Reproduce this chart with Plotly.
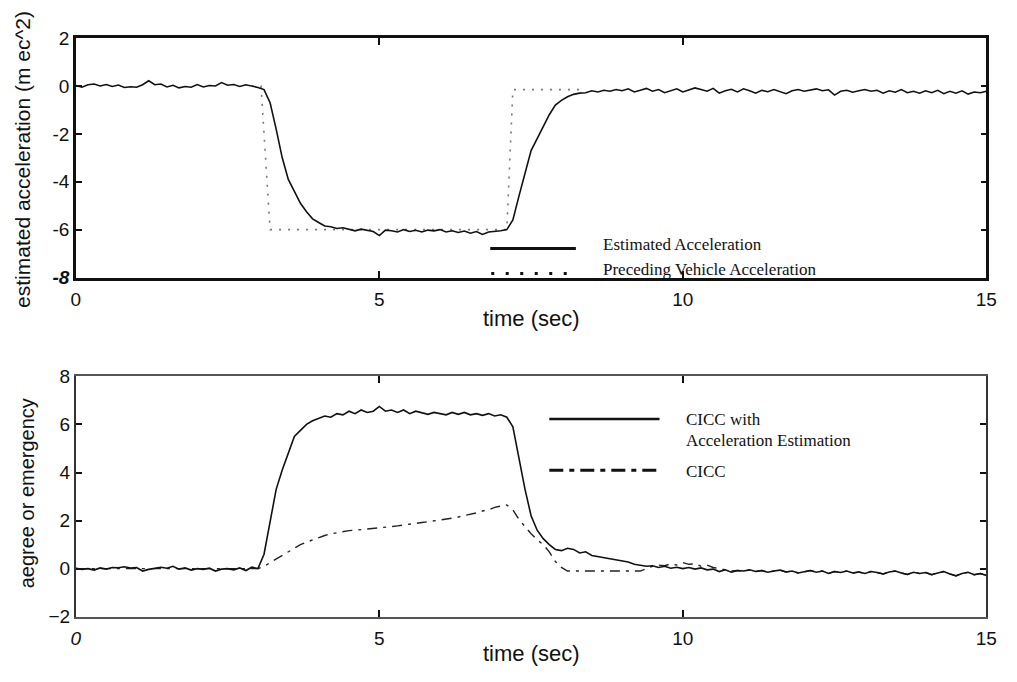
import plotly.graph_objects as go

# ---------------- data ----------------
time = [
    0.0, 0.1, 0.2, 0.3, 0.4, 0.5, 0.6, 0.7, 0.8, 0.9,
    1.0, 1.1, 1.2, 1.3, 1.4, 1.5, 1.6, 1.7, 1.8, 1.9,
    2.0, 2.1, 2.2, 2.3, 2.4, 2.5, 2.6, 2.7, 2.8, 2.9,
    3.0, 3.1, 3.2, 3.3, 3.4, 3.5, 3.6, 3.7, 3.8, 3.9,
    4.0, 4.1, 4.2, 4.3, 4.4, 4.5, 4.6, 4.7, 4.8, 4.9,
    5.0, 5.1, 5.2, 5.3, 5.4, 5.5, 5.6, 5.7, 5.8, 5.9,
    6.0, 6.1, 6.2, 6.3, 6.4, 6.5, 6.6, 6.7, 6.8, 6.9,
    7.0, 7.1, 7.2, 7.3, 7.4, 7.5, 7.6, 7.7, 7.8, 7.9,
    8.0, 8.1, 8.2, 8.3, 8.4, 8.5, 8.6, 8.7, 8.8, 8.9,
    9.0, 9.1, 9.2, 9.3, 9.4, 9.5, 9.6, 9.7, 9.8, 9.9,
    10.0, 10.1, 10.2, 10.3, 10.4, 10.5, 10.6, 10.7, 10.8, 10.9,
    11.0, 11.1, 11.2, 11.3, 11.4, 11.5, 11.6, 11.7, 11.8, 11.9,
    12.0, 12.1, 12.2, 12.3, 12.4, 12.5, 12.6, 12.7, 12.8, 12.9,
    13.0, 13.1, 13.2, 13.3, 13.4, 13.5, 13.6, 13.7, 13.8, 13.9,
    14.0, 14.1, 14.2, 14.3, 14.4, 14.5, 14.6, 14.7, 14.8, 14.9, 15.0,
]

estimated_accel = [
    0.02, -0.05, 0.05, 0.08, 0.0, 0.06, -0.02, 0.04, -0.06, -0.03,
    -0.05, 0.05, 0.22, 0.05, 0.08, -0.04, 0.03, -0.08, -0.02, -0.05,
    0.06, -0.04, 0.02, 0.0, 0.14, 0.03, 0.06, -0.02, 0.05, 0.0,
    -0.06, -0.15, -0.7, -1.8, -3.0, -3.9, -4.4, -4.9, -5.25, -5.55,
    -5.7, -5.85, -5.88, -5.95, -5.92, -6.0, -6.05, -5.98, -6.02, -6.08,
    -6.25, -6.02, -6.05, -6.1, -6.0, -6.08, -6.03, -6.1, -6.02, -6.05,
    -6.0, -6.1, -6.05, -6.12, -6.06, -6.15, -6.08, -6.2, -6.1, -6.08,
    -6.05, -6.0, -5.6, -4.6, -3.6, -2.7, -2.2, -1.7, -1.2, -0.8,
    -0.6, -0.45, -0.35, -0.3, -0.28, -0.2, -0.25, -0.18, -0.22, -0.15,
    -0.2, -0.12, -0.25, -0.18, -0.1, -0.22, -0.15, -0.28, -0.2, -0.12,
    -0.25, -0.18, -0.08, -0.15, -0.22, -0.1, -0.3, -0.2, -0.14, -0.25,
    -0.12, -0.2, -0.3, -0.18, -0.24, -0.15, -0.22, -0.32, -0.2, -0.15,
    -0.22, -0.18, -0.12, -0.2, -0.16, -0.38, -0.22, -0.18, -0.26, -0.2,
    -0.15, -0.22, -0.18, -0.3, -0.2, -0.26, -0.15, -0.28, -0.22, -0.3,
    -0.2, -0.28, -0.18, -0.32, -0.22, -0.3, -0.2, -0.34, -0.25, -0.28, -0.22,
]

preceding_time = [2.9, 3.05, 3.2, 7.1, 7.2, 8.4]
preceding_accel = [0.0, 0.0, -6.0, -6.0, -0.15, -0.15]

cicc_ae = [
    0.02, -0.03, 0.0, -0.06, 0.03, -0.02, 0.05, 0.04, 0.08, 0.03,
    0.05, -0.1, -0.03, 0.0, 0.06, 0.02, 0.1, -0.02, 0.03, -0.06,
    0.0, -0.03, 0.02, -0.1, -0.02, 0.0, -0.05, 0.03, -0.08, 0.06,
    0.0, 0.6, 2.0, 3.3, 4.1, 4.8, 5.5, 5.75, 6.0, 6.15,
    6.25, 6.35, 6.3, 6.45, 6.4, 6.55, 6.45, 6.6, 6.5, 6.55,
    6.75, 6.55, 6.6, 6.5, 6.6, 6.45, 6.55, 6.5, 6.42, 6.5,
    6.45, 6.4, 6.5, 6.42, 6.5, 6.4, 6.45, 6.38, 6.45, 6.35,
    6.4, 6.3, 5.9, 4.6, 3.3, 2.2, 1.6, 1.25, 1.0, 0.8,
    0.75, 0.85, 0.8, 0.65, 0.7, 0.55, 0.5, 0.45, 0.4, 0.35,
    0.3, 0.28, 0.18, 0.15, 0.1, 0.12, 0.05, 0.1, 0.02, 0.06,
    0.0, 0.05, -0.02, 0.03, -0.05, -0.02, -0.12, -0.05, -0.15, -0.08,
    -0.1, -0.05, -0.12, -0.08, -0.15, -0.1, -0.06, -0.14, -0.1, -0.18,
    -0.12, -0.08, -0.15, -0.1, -0.2, -0.12, -0.16, -0.1, -0.18, -0.14,
    -0.2, -0.12, -0.16, -0.22, -0.14, -0.1, -0.18, -0.24, -0.15, -0.2,
    -0.16, -0.25, -0.18, -0.12, -0.22, -0.3, -0.2, -0.15, -0.25, -0.2, -0.28,
]

cicc = [
    0.0, 0.0, 0.0, 0.0, 0.0, 0.0, 0.0, 0.0, 0.0, 0.0,
    0.0, 0.0, 0.0, 0.0, 0.0, 0.0, 0.0, 0.0, 0.0, 0.0,
    0.0, 0.0, 0.0, 0.0, 0.0, 0.0, 0.0, 0.0, 0.0, 0.0,
    0.0, 0.1, 0.25, 0.4, 0.55, 0.7, 0.85, 1.0, 1.1, 1.2,
    1.3, 1.38, 1.45, 1.5, 1.55, 1.58, 1.6, 1.62, 1.64, 1.66,
    1.68, 1.72, 1.75, 1.78, 1.82, 1.85, 1.88, 1.92, 1.95, 1.98,
    2.02, 2.06, 2.1, 2.15, 2.2, 2.25, 2.32, 2.4, 2.45, 2.55,
    2.6, 2.65, 2.45, 2.05, 1.75, 1.45, 1.2, 1.0, 0.7, 0.3,
    0.05, -0.1, -0.1, -0.1, -0.1, -0.1, -0.1, -0.1, -0.1, -0.1,
    -0.1, -0.1, -0.1, -0.1, 0.0, 0.1, 0.15, 0.12, 0.2, 0.15,
    0.25, 0.18, 0.2, 0.1, 0.15, 0.05, 0.0, -0.05, -0.1, -0.08,
    -0.1, -0.05, -0.12, -0.08, -0.15, -0.1, -0.06, -0.14, -0.1, -0.18,
    -0.12, -0.08, -0.15, -0.1, -0.2, -0.12, -0.16, -0.1, -0.18, -0.14,
    -0.2, -0.12, -0.16, -0.22, -0.14, -0.1, -0.18, -0.24, -0.15, -0.2,
    -0.16, -0.25, -0.18, -0.12, -0.22, -0.3, -0.2, -0.15, -0.25, -0.2, -0.28,
]

x_ticks = [0, 5, 10, 15]
top_x_labels = ["0", "5", "10", "15"]
bottom_x_labels = ["<i>0</i>", "5", "10", "15"]
top_y_ticks = [2, 0, -2, -4, -6, -8]
top_y_labels = ["2", "0", "-2", "-4", "-6", "<b><i>-8</i></b>"]
bottom_y_ticks = [8, 6, 4, 2, 0, -2]

# ---------------- figure ----------------
W, H = 1017, 682
def px_x(p):
    return p / W
def px_y(p):
    return 1 - p / H

fig = go.Figure()

fig.add_trace(go.Scatter(x=preceding_time, y=preceding_accel, mode="lines",
                         line=dict(color="#777", width=1.6, dash="2px,7px"),
                         xaxis="x", yaxis="y", showlegend=False))
fig.add_trace(go.Scatter(x=time, y=estimated_accel, mode="lines",
                         line=dict(color="#111", width=1.6), xaxis="x", yaxis="y",
                         showlegend=False))
fig.add_trace(go.Scatter(x=time, y=cicc, mode="lines",
                         line=dict(color="#222", width=1.4, dash="10px,6px,3px,6px"),
                         xaxis="x2", yaxis="y2", showlegend=False))
fig.add_trace(go.Scatter(x=time, y=cicc_ae, mode="lines",
                         line=dict(color="#111", width=1.6), xaxis="x2", yaxis="y2",
                         showlegend=False))

tickfont = dict(family="Liberation Sans, Arial, sans-serif", size=19, color="#111")

axis_common = dict(range=[0, 15], tickvals=x_ticks, ticks="inside", ticklen=7,
                   tickwidth=2, tickcolor="#111", showgrid=False, zeroline=False,
                   showline=True, mirror="allticks", tickfont=tickfont,
                   ticklabelstandoff=3)

fig.update_layout(
    width=W, height=H,
    margin=dict(l=0, r=0, t=0, b=0),
    paper_bgcolor="white", plot_bgcolor="white",
    xaxis=dict(axis_common, domain=[px_x(72), px_x(997)], anchor="y",
               ticktext=top_x_labels, linecolor="#111", linewidth=2.5),
    yaxis=dict(range=[-8, 2], tickvals=top_y_ticks, ticktext=top_y_labels,
               domain=[px_y(276), px_y(29)],
               anchor="x", ticks="inside", ticklen=6, tickwidth=2, tickcolor="#111",
               showgrid=False, zeroline=False, showline=True, mirror="allticks",
               linecolor="#111", linewidth=2.5, tickfont=tickfont),
    xaxis2=dict(axis_common, domain=[px_x(72), px_x(997)], anchor="y2",
                ticktext=bottom_x_labels, linecolor="#555", linewidth=2),
    yaxis2=dict(range=[-2, 8], tickvals=bottom_y_ticks, domain=[px_y(626), px_y(378)],
                anchor="x2", ticks="inside", ticklen=6, tickwidth=2, tickcolor="#111",
                showgrid=False, zeroline=False, showline=True, mirror="allticks",
                linecolor="#333", linewidth=2, tickfont=tickfont),
)

title_font = dict(family="Liberation Sans, Arial, sans-serif", size=22, color="#111")
ytitle_font = dict(family="Liberation Sans, Arial, sans-serif", size=21, color="#111")
ytitle2_font = dict(family="Liberation Sans, Arial, sans-serif", size=20, color="#111")
legend_font = dict(family="Liberation Serif, Times New Roman, serif", size=17, color="#111")

annotations = [
    dict(text="time (sec)", x=px_x(535), y=px_y(318), xref="paper", yref="paper",
         showarrow=False, font=title_font, xanchor="center", yanchor="middle"),
    dict(text="time (sec)", x=px_x(535), y=px_y(664), xref="paper", yref="paper",
         showarrow=False, font=title_font, xanchor="center", yanchor="middle"),
    dict(text="estimated acceleration (m ec^2)", x=px_x(18), y=px_y(154), xref="paper",
         yref="paper", showarrow=False, font=ytitle_font, textangle=-90,
         xanchor="center", yanchor="middle"),
    dict(text="aegree or emergency", x=px_x(22), y=px_y(499), xref="paper",
         yref="paper", showarrow=False, font=ytitle2_font, textangle=-90,
         xanchor="center", yanchor="middle"),
    dict(text="Estimated Acceleration", x=px_x(606), y=px_y(242), xref="paper",
         yref="paper", showarrow=False, font=legend_font, xanchor="left", yanchor="middle"),
    dict(text="Preceding Vehicle Acceleration", x=px_x(606), y=px_y(268), xref="paper",
         yref="paper", showarrow=False, font=legend_font, xanchor="left", yanchor="middle"),
    dict(text="CICC with", x=px_x(690), y=px_y(423), xref="paper",
         yref="paper", showarrow=False, font=legend_font, xanchor="left", yanchor="middle"),
    dict(text="Acceleration Estimation", x=px_x(690), y=px_y(444), xref="paper",
         yref="paper", showarrow=False, font=legend_font, xanchor="left", yanchor="middle"),
    dict(text="CICC", x=px_x(690), y=px_y(476), xref="paper",
         yref="paper", showarrow=False, font=legend_font, xanchor="left", yanchor="middle"),
]

shapes = [
    dict(type="line", xref="paper", yref="paper", x0=px_x(493), x1=px_x(580),
         y0=px_y(246), y1=px_y(246), line=dict(color="#111", width=3)),
    dict(type="line", xref="paper", yref="paper", x0=px_x(494), x1=px_x(582),
         y0=px_y(272), y1=px_y(272), line=dict(color="#111", width=3, dash="3px,11.5px")),
    dict(type="line", xref="paper", yref="paper", x0=px_x(553), x1=px_x(665),
         y0=px_y(422), y1=px_y(422), line=dict(color="#111", width=2.5)),
    dict(type="line", xref="paper", yref="paper", x0=px_x(553), x1=px_x(665),
         y0=px_y(475), y1=px_y(475), line=dict(color="#111", width=3,
                                               dash="14px,6px,5px,6px")),
]

fig.update_layout(annotations=annotations, shapes=shapes)

fig.write_html("out.html")
